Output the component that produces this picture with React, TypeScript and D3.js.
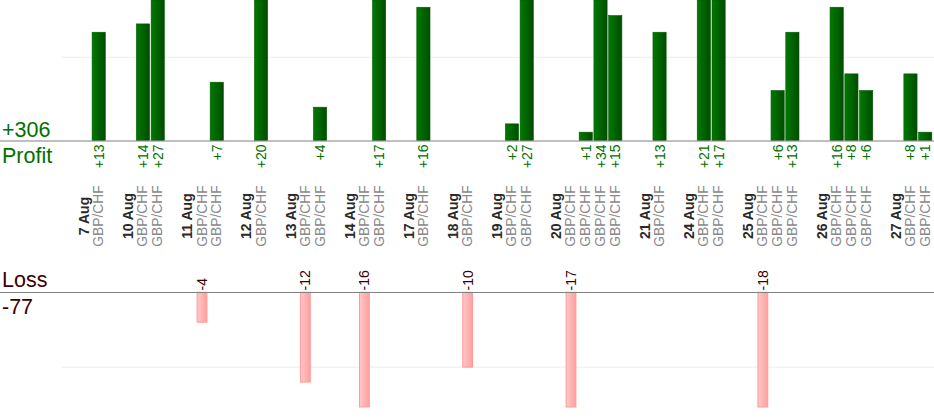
import React from 'react';
import * as d3 from 'd3';

const dayLabels = ['7 Aug', '10 Aug', '11 Aug', '12 Aug', '13 Aug', '14 Aug', '17 Aug', '18 Aug', '19 Aug', '20 Aug', '21 Aug', '24 Aug', '25 Aug', '26 Aug', '27 Aug'];
const tradeDayIndex = [0, 1, 1, 2, 2, 3, 4, 4, 5, 5, 6, 7, 8, 8, 9, 9, 9, 9, 10, 11, 11, 12, 12, 12, 13, 13, 13, 14, 14];
const tradeResults = [13, 14, 27, -4, 7, 20, -12, 4, -16, 17, 16, -10, 2, 27, -17, 1, 34, 15, 13, 21, 17, -18, 6, 13, 16, 8, 6, 8, 1];
const instrument = 'GBP/CHF';
const profitLabel = 'Profit';
const lossLabel = 'Loss';

const W = 934;
const H = 420;
const FONT = '"Liberation Sans", Arial, sans-serif';

type Slot = { key: string; kind: 'gap' | 'day' | 'trade'; day?: number; value?: number };

function buildSlots(): Slot[] {
  const slots: Slot[] = [{ key: 'g0', kind: 'gap' }];
  dayLabels.forEach((d, di) => {
    slots.push({ key: 'd' + di, kind: 'day', day: di });
    tradeResults.forEach((v, ti) => {
      if (tradeDayIndex[ti] === di) slots.push({ key: 't' + ti, kind: 'trade', day: di, value: v });
    });
    if (di < dayLabels.length - 1) slots.push({ key: 'g' + (di + 1), kind: 'gap' });
  });
  return slots;
}

export default function App() {
  const slots = buildSlots();
  const x = d3.scaleBand<string>().domain(slots.map(s => s.key)).range([61.8, 932.6]).paddingInner(0).paddingOuter(0);
  const yP = d3.scaleLinear().domain([0, 16.87]).range([140.5, 0]);
  const yL = d3.scaleLinear().domain([0, 15.33]).range([292.3, 407]);
  const profitTotal = d3.sum(tradeResults.filter(v => v > 0));
  const lossTotal = d3.sum(tradeResults.filter(v => v < 0));
  const cx = (k: string) => (x(k) ?? 0) + x.bandwidth() / 2;
  const pBarW = 13.2;
  const lBarW = 9.8;

  return (
    <svg width={W} height={H} style={{ position: 'absolute', left: 0, top: 0, fontFamily: FONT }}>
      <defs>
        <linearGradient id="gp" x1="0" x2="1" y1="0" y2="0">
          <stop offset="0" stopColor="#007a00" />
          <stop offset="1" stopColor="#004c00" />
        </linearGradient>
        <linearGradient id="gl" x1="0" x2="1" y1="0" y2="0">
          <stop offset="0" stopColor="#ffc8c8" />
          <stop offset="1" stopColor="#ff9f9f" />
        </linearGradient>
      </defs>
      <rect x={0} y={0} width={W} height={H} fill="#fff" />
      {/* gridlines */}
      <line x1={62} x2={W} y1={yP(10)} y2={yP(10)} stroke="#ececec" strokeWidth={1} />
      <line x1={62} x2={W} y1={yL(10)} y2={yL(10)} stroke="#ececec" strokeWidth={1} />

      {/* profit bars */}
      {slots.filter(s => s.kind === 'trade' && (s.value as number) > 0).map(s => {
        const top = Math.max(0, yP(s.value as number));
        return (
          <rect key={'pb' + s.key} x={cx(s.key) - pBarW / 2} y={top} width={pBarW} height={yP(0) - top}
            fill="url(#gp)" stroke="#005a00" strokeWidth={0.6} />
        );
      })}
      {/* loss bars */}
      {slots.filter(s => s.kind === 'trade' && (s.value as number) < 0).map(s => {
        const bottom = Math.min(407, yL(-(s.value as number)));
        return (
          <rect key={'lb' + s.key} x={cx(s.key) - lBarW / 2} y={yL(0)} width={lBarW} height={bottom - yL(0)}
            fill="url(#gl)" stroke="#ff9a9a" strokeWidth={1} />
        );
      })}

      {/* baselines */}
      <line x1={0} x2={W} y1={141} y2={141} stroke="#808080" strokeWidth={1.2} />
      <line x1={0} x2={W} y1={292.5} y2={292.5} stroke="#808080" strokeWidth={1.2} />

      {/* totals */}
      <text x={2} y={137} fontSize={21.5} fill="#007000">{'+' + profitTotal}</text>
      <text x={2} y={162.5} fontSize={21.5} fill="#007000">{profitLabel}</text>
      <text x={2} y={287} fontSize={21.5} fill="#3a0000">{lossLabel}</text>
      <text x={2} y={314} fontSize={21.5} fill="#3a0000">{String(lossTotal)}</text>

      {/* profit value labels */}
      {slots.filter(s => s.kind === 'trade' && (s.value as number) > 0).map(s => (
        <text key={'pv' + s.key} transform={`translate(${cx(s.key)},144.5) rotate(-90)`} textAnchor="end"
          dominantBaseline="central" fontSize={14} fill="#007000">{'+' + s.value}</text>
      ))}
      {/* loss value labels */}
      {slots.filter(s => s.kind === 'trade' && (s.value as number) < 0).map(s => (
        <text key={'lv' + s.key} transform={`translate(${cx(s.key)},290.5) rotate(-90)`} textAnchor="start"
          dominantBaseline="central" fontSize={14} fill="#3a0000">{String(s.value)}</text>
      ))}

      {/* category labels */}
      {slots.filter(s => s.kind !== 'gap').map(s => (
        <text key={'cl' + s.key} transform={`translate(${cx(s.key)},216) rotate(-90)`} textAnchor="middle"
          dominantBaseline="central" fontSize={s.kind === 'day' ? 14 : 13.8}
          fontWeight={s.kind === 'day' ? 'bold' : 'normal'} fill={s.kind === 'day' ? '#2a2a2a' : '#8a8a8a'}>
          {s.kind === 'day' ? dayLabels[s.day as number] : instrument}
        </text>
      ))}
    </svg>
  );
}
